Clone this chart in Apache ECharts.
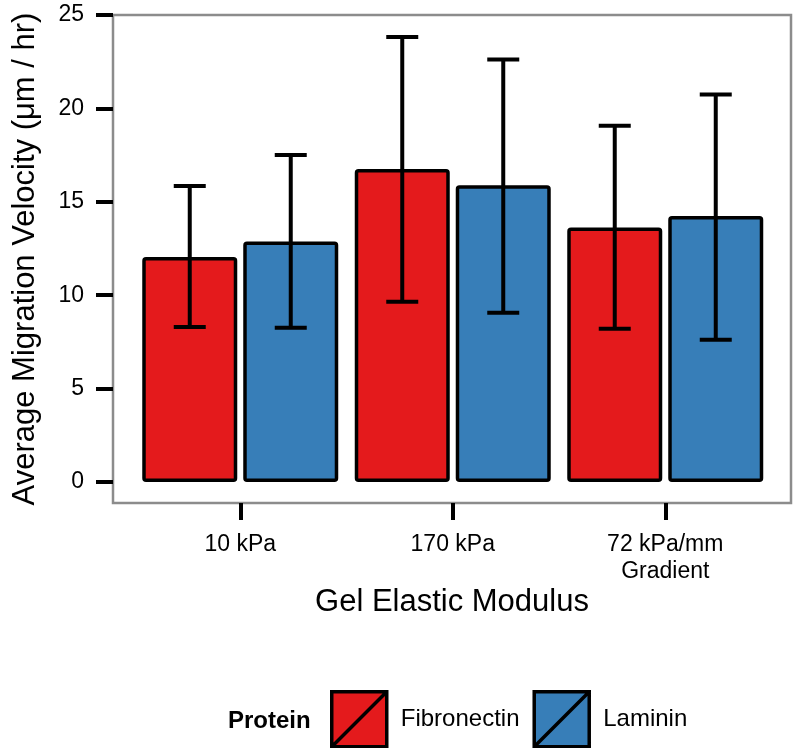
<!doctype html>
<html>
<head>
<meta charset="utf-8">
<script src="https://cdn.jsdelivr.net/npm/echarts@6/dist/echarts.min.js"></script>
<style>
  html, body { margin: 0; padding: 0; background: #fff; }
  #chart { width: 793px; height: 748px; }
</style>
</head>
<body>
<div id="chart"></div>
<script>
// data
var categories = ['10 kPa', '170 kPa', '72 kPa/mm\nGradient'];
var fibMean = [12.05, 16.75, 13.62];
var fibLow  = [8.3, 9.65, 8.2];
var fibHigh = [15.85, 23.82, 19.07];
var lamMean = [12.88, 15.88, 14.24];
var lamLow  = [8.26, 9.06, 7.62];
var lamHigh = [17.5, 22.62, 20.75];
var yTicks = { min: 0, max: 25, step: 5 };

var FONT = 'Liberation Sans, Arial, sans-serif';
var RED = '#E41A1C', BLUE = '#377EB8';
var BAR_W = 95, GAP = 6;
var OFF = (BAR_W + GAP) / 2;

function errData(lo, hi) {
  return categories.map(function (c, i) { return [i, lo[i], hi[i]]; });
}

function errRender(dx) {
  return function (params, api) {
    var i = api.value(0);
    var pLo = api.coord([i, api.value(1)]);
    var pHi = api.coord([i, api.value(2)]);
    var x = pLo[0] + dx, cap = 16;
    var st = { stroke: '#000', lineWidth: 4 };
    return {
      type: 'group',
      children: [
        { type: 'line', shape: { x1: x, y1: pLo[1], x2: x, y2: pHi[1] }, style: st },
        { type: 'line', shape: { x1: x - cap, y1: pHi[1], x2: x + cap, y2: pHi[1] }, style: st },
        { type: 'line', shape: { x1: x - cap, y1: pLo[1], x2: x + cap, y2: pLo[1] }, style: st }
      ]
    };
  };
}

var chart = echarts.init(document.getElementById('chart'));
var keyIcon = 'path://M0,0 L10,0 L10,10 L0,10 Z M0,10 L10,0';

chart.setOption({
  animation: false,
  textStyle: { fontFamily: FONT },
  title: {
    text: 'Protein', left: 223, top: 704,
    textStyle: { fontFamily: FONT, fontSize: 24, fontWeight: 'bold', color: '#000' }
  },
  legend: {
    data: ['Fibronectin', 'Laminin'],
    left: 330, top: 690, padding: 0,
    itemWidth: 55, itemHeight: 55, itemGap: 13,
    icon: keyIcon,
    itemStyle: { borderColor: '#000', borderWidth: 3.5 },
    textStyle: { fontFamily: FONT, fontSize: 24, color: '#000', padding: [0, 0, 0, 9] }
  },
  grid: [
    { left: 134, right: 21.5, top: 15, bottom: 266 },
    { left: 113, right: 2, top: 15, bottom: 245, show: true,
      borderColor: '#8c8c8c', borderWidth: 2.5, backgroundColor: 'transparent' }
  ],
  xAxis: [
    {
      type: 'category', gridIndex: 0, data: categories, offset: 21,
      axisLine: { show: false, onZero: false },
      axisTick: { show: true, inside: false, alignWithLabel: true, length: 17, lineStyle: { color: '#000', width: 4 } },
      axisLabel: { fontFamily: FONT, fontSize: 23, color: '#000', margin: 28, lineHeight: 27 }
    },
    {
      type: 'value', gridIndex: 1, min: 0, max: 1,
      axisLine: { show: false, onZero: false }, axisTick: { show: false }, axisLabel: { show: false }, splitLine: { show: false },
      name: 'Gel Elastic Modulus', nameLocation: 'middle', nameGap: 84,
      nameTextStyle: { fontFamily: FONT, fontSize: 31, color: '#000' }
    }
  ],
  yAxis: [
    {
      type: 'value', gridIndex: 0, min: yTicks.min, max: yTicks.max, interval: yTicks.step, offset: 21,
      axisLine: { show: false, onZero: false },
      axisTick: { show: true, length: 17, lineStyle: { color: '#000', width: 4 } },
      axisLabel: { fontFamily: FONT, fontSize: 23, color: '#000', margin: 29 },
      splitLine: { show: false }
    },
    {
      type: 'value', gridIndex: 1, min: 0, max: 1,
      axisLine: { show: false, onZero: false }, axisTick: { show: false }, axisLabel: { show: false }, splitLine: { show: false },
      name: 'Average Migration Velocity (\u03bcm / hr)', nameLocation: 'middle', nameGap: 72,
      nameTextStyle: { fontFamily: FONT, fontSize: 31, color: '#000' }
    }
  ],
  series: [
    {
      name: 'Fibronectin', type: 'bar', data: fibMean,
      barWidth: BAR_W, barGap: (GAP / BAR_W * 100).toFixed(1) + '%',
      itemStyle: { color: RED, borderColor: '#000', borderWidth: 3.5, borderRadius: 2 }
    },
    {
      name: 'Laminin', type: 'bar', data: lamMean,
      barWidth: BAR_W,
      itemStyle: { color: BLUE, borderColor: '#000', borderWidth: 3.5, borderRadius: 2 }
    },
    {
      type: 'custom', name: 'fibErr', data: errData(fibLow, fibHigh),
      encode: { x: 0, y: [1, 2] }, renderItem: errRender(-OFF), z: 5
    },
    {
      type: 'custom', name: 'lamErr', data: errData(lamLow, lamHigh),
      encode: { x: 0, y: [1, 2] }, renderItem: errRender(OFF), z: 5
    }
  ]
});
</script>
</body>
</html>
